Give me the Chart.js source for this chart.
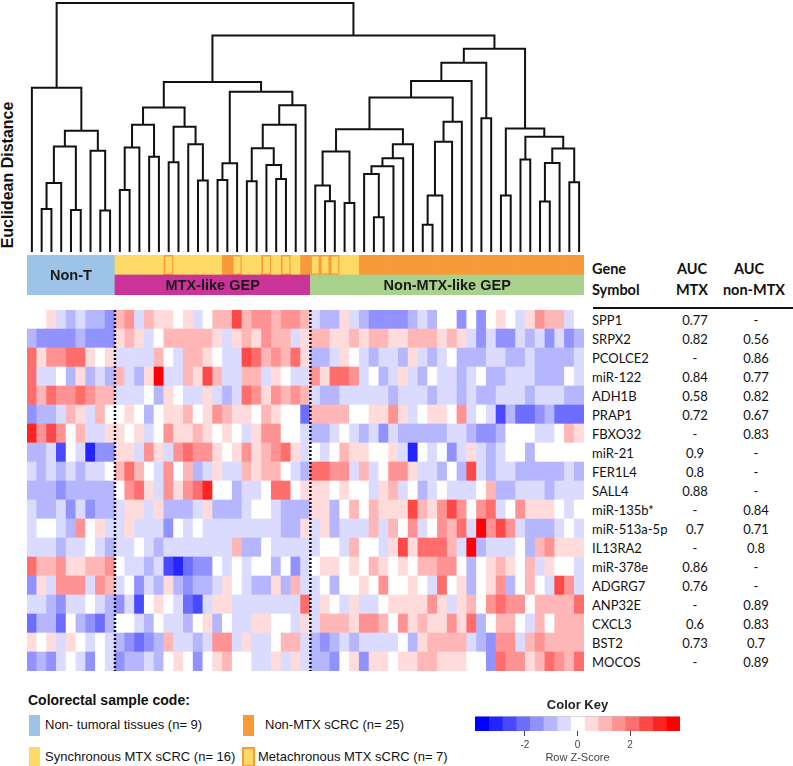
<!DOCTYPE html>
<html>
<head>
<meta charset="utf-8">
<script src="https://cdn.jsdelivr.net/npm/chart.js"></script>
<style>
  body { margin: 0; background: #fff; width: 793px; height: 766px; position: relative; overflow: hidden;
         font-family: "Liberation Sans", Arial, sans-serif; color: #111; }
  canvas { position: absolute; }
  .abs { position: absolute; white-space: nowrap; }
  .tbl { font-family: Lato, "Noto Sans", sans-serif; font-size: 13px; line-height: 16px; color: #111; }
  .hd { font-family: Lato, "Noto Sans", sans-serif; font-weight: bold; font-size: 14.5px; line-height: 18px; color: #111; }
  .sw { position: absolute; width: 11px; height: 21px; }
  .lg { font-size: 13px; line-height: 16px; color: #111; }
</style>
</head>
<body>
<canvas id="dendro" width="557" height="253" style="left:27px;top:0px"></canvas>
<canvas id="annot" width="557" height="40" style="left:27px;top:255px"></canvas>
<canvas id="heat" width="557" height="361" style="left:27px;top:310px"></canvas>
<canvas id="key" width="220" height="68" style="left:470px;top:697px"></canvas>

<div class="abs" style="left:-72px;top:166px;width:160px;height:18px;line-height:18px;text-align:center;font-weight:bold;font-size:16px;transform:rotate(-90deg);">Euclidean Distance</div>

<div id="table"></div>

<div class="abs" style="left:28px;top:692px;font-weight:bold;font-size:14px;line-height:16px;">Colorectal sample code:</div>
<div class="sw" style="left:29px;top:715px;background:#9DC3E6"></div>
<div class="abs lg" style="left:45px;top:717px;">Non- tumoral tissues (n= 9)</div>
<div class="sw" style="left:243px;top:715px;background:#F79A3A"></div>
<div class="abs lg" style="left:265px;top:717px;">Non-MTX sCRC (n= 25)</div>
<div class="sw" style="left:29px;top:747px;height:20px;background:#FFD966"></div>
<div class="abs lg" style="left:45px;top:749px;">Synchronous MTX sCRC (n= 16)</div>
<div class="sw" style="left:242px;top:747px;width:9px;height:16px;background:#FFD966;border:2px solid #F79A3A"></div>
<div class="abs lg" style="left:258px;top:749px;">Metachronous MTX sCRC (n= 7)</div>

<script>
// genes (heatmap rows, top to bottom) and AUC table
const genes = ['SPP1', 'SRPX2', 'PCOLCE2', 'miR-122', 'ADH1B', 'PRAP1', 'FBXO32', 'miR-21', 'FER1L4', 'SALL4',
  'miR-135b*', 'miR-513a-5p', 'IL13RA2', 'miR-378e', 'ADGRG7', 'ANP32E', 'CXCL3', 'BST2', 'MOCOS'];
const aucMtx = ['0.77', '0.82', '-', '0.84', '0.58', '0.72', '-', '0.9', '0.8', '0.88',
  '-', '0.7', '-', '0.86', '0.76', '-', '0.6', '0.73', '-'];
const aucNonMtx = ['-', '0.56', '0.86', '0.77', '0.82', '0.67', '0.83', '-', '-', '-',
  '0.84', '0.71', '0.8', '-', '-', '0.89', '0.83', '0.7', '0.89'];

// sample code per column (NT non-tumoral, S synchronous, M metachronous, O non-MTX sCRC)
const sampleCode = [
  'NT','NT','NT','NT','NT','NT','NT','NT','NT',
  'S','S','S','S','S','M','S','S','S','S','S','O','M','S','S','M','S','M','S','O',
  'M','M','M','S','S',
  'O','O','O','O','O','O','O','O','O','O','O','O','O','O','O','O','O','O','O','O','O','O','O'];
// GEP groups
const gepNames = ['Non-T', 'MTX-like GEP', 'Non-MTX-like GEP'];
const gepFirst = [0, 9, 29];
const gepLast = [8, 28, 56];

// row z-scores, one array per gene (57 samples in dendrogram order)
const zSPP1 = [0,0,0.5,-0.5,-1,-0.5,-1,-1,-1.5, 1,1.5,-0.5,1,0.5,0.5,0,0.5,-0.5,0,1,1,2.5,1,1.5,1.5,1,1.5,1.5,1,
  -0.5,-1,-1,0.5,-0.5,-1,-1.5,-1.5,-1.5,-1.5,-1,-0.5,-1,0,0,-1.5,0,-1.5,0,0.5,0,-0.5,0.5,1.5,1,1,-0.5,0];
const zSRPX2 = [-1,-1.5,-1.5,-1.5,-1.5,-1,-1.5,-1.5,-1.5, 0.5,1,0.5,-0.5,0,1,1,1,1,1,0.5,-0.5,0.5,1,0.5,1.5,1,1,-0.5,0.5,
  1,1,0.5,0.5,1,0.5,1,1,0.5,0.5,1,1,1,0.5,1,0.5,-0.5,-1.5,-0.5,-1.5,-1.5,-0.5,-1,-0.5,-1.5,-0.5,-1.5,-1];
const zPCOLCE2 = [2,0.5,1.5,1.5,2,2,0.5,0,0.5, -0.5,-0.5,-0.5,-0.5,1,0,-0.5,1,1,0.5,0,-0.5,-0.5,2.5,2,1,1.5,1,2,0.5,
  -1,-1,-0.5,0.5,0,-0.5,-1,-0.5,-0.5,-1,0.5,-0.5,-1,-0.5,0,-1,-1,-1,-0.5,-0.5,-1,-1,-0.5,-1,-1,-1,-1,-0.5];
const zMiR122 = [2,-0.5,-0.5,0,-1,0.5,-1,-0.5,-1, 1,-0.5,-1,0.5,3.5,-0.5,-0.5,1,0.5,2.5,1,-0.5,-0.5,1,1,-0.5,0.5,0,-0.5,-0.5,
  1.5,0.5,2,2,1.5,-0.5,0,-1,-0.5,0.5,-0.5,-1,0,-0.5,-0.5,-1,-0.5,0,-1,-1,-0.5,-0.5,-0.5,-1,-1,-1,0,-0.5];
const zADH1B = [2,1,2,1.5,1.5,2,1.5,1,1, -0.5,-0.5,-0.5,0,-1,0.5,0,-0.5,-0.5,0.5,-0.5,-1,-0.5,2,1.5,0.5,1.5,1,1.5,1,
  -0.5,-1,-1,-0.5,-0.5,-0.5,-0.5,-0.5,-1,-0.5,-0.5,-0.5,-1,-0.5,-0.5,-1,-0.5,-1,-1,-0.5,-0.5,-0.5,-1,-0.5,-0.5,-0.5,-1,-1];
const zPRAP1 = [-1.5,-1,-1,-0.5,1,0.5,-0.5,1,0, 0,0.5,0,-1,0,0.5,0.5,1,0,0.5,1.5,1,0.5,0.5,0,1,0.5,0,0,-2,
  1,1,1,1,0,0,0.5,0.5,1.5,0.5,-0.5,0,0.5,0.5,0,1.5,-0.5,0,-0.5,-2.5,-1,-2,-2,-1.5,-1,-2,-2,-2];
const zFBXO32 = [3,1.5,2.5,1.5,0,1,-0.5,-0.5,0.5, 0.5,0,0.5,-0.5,0,1.5,0.5,0.5,1,0.5,0,0.5,0,-0.5,0.5,1.5,1.5,0,0,-0.5,
  -1,-1,-0.5,0,-0.5,-1,-0.5,-1.5,-0.5,-1,-1,-1,-1,-1,-0.5,-0.5,-1,-1.5,-1.5,-1,0,0,0,-0.5,-0.5,0,1,0.5];
const zMiR21 = [-1,-1,-0.5,-2.5,0,-0.5,-3,-1.5,-1.5, 0.5,0.5,-0.5,1.5,0.5,-0.5,1.5,2,1.5,1.5,0.5,0,0.5,1.5,0.5,1,1.5,2,0.5,-0.5,
  0,-0.5,0,1,0.5,0.5,0,0,0.5,-0.5,-3,0,-0.5,0,-1.5,-0.5,0.5,-0.5,-1,-0.5,0,0,-1,0,0,0,0,0];
const zFER1L4 = [-0.5,-1,-0.5,-1,-0.5,-1,-0.5,-0.5,0, 1,2,1,0,-0.5,1.5,0,1,-1,-0.5,0.5,-0.5,-0.5,1,0.5,1,1,0,-0.5,-1,
  2,2,1.5,1.5,-0.5,1,-0.5,0,1.5,1.5,0.5,-0.5,-0.5,-1,0,-1,2.5,-0.5,-1,-0.5,-0.5,-1,-1,-1,-1,-1,-0.5,-1];
const zSALL4 = [-1,-1,-1,-1.5,-1,-1,-1,-1,-1, 0,1.5,2,0.5,-0.5,1.5,0.5,1.5,2,3,0,0,-1,-0.5,-0.5,0,2,2,0,0.5,
  0.5,0.5,0,0.5,0,0,-0.5,0.5,1,-0.5,0,-1,-0.5,0,-0.5,-0.5,-0.5,0,1,-1,-1,-0.5,-0.5,-0.5,-1,-0.5,-0.5,-0.5];
const zMiR135b = [-0.5,-1,-1,-0.5,-1.5,-0.5,-1.5,-1,-1, -0.5,0.5,0.5,-0.5,0.5,-1,-1,-1,-0.5,0.5,-1,-1,-1,-0.5,0,0,-0.5,-1,-1,-1,
  0.5,0.5,-1,0,1,0,1,0.5,0.5,0.5,2.5,1,0.5,1.5,2.5,1.5,0,1.5,2,-0.5,0,1.5,0.5,0.5,0.5,0,-0.5,0];
const zMiR513a = [-0.5,0,0,-0.5,-1,1.5,0,0.5,-0.5, -0.5,0.5,-0.5,-0.5,-0.5,-1.5,0,-0.5,0,-0.5,-0.5,-0.5,-0.5,-0.5,-0.5,-0.5,-0.5,-1,-1,0.5,
  -0.5,0.5,-1,-0.5,-0.5,-0.5,1,-0.5,1,0,1.5,-0.5,0,1.5,1,2,-0.5,3.5,1.5,2.5,1.5,-0.5,-1,-1,-1,-0.5,0,-0.5];
const zIL13RA2 = [-0.5,-0.5,-0.5,-1,-0.5,-0.5,0,-0.5,-1, -0.5,-0.5,0,-0.5,-1,-0.5,-0.5,-0.5,-0.5,-0.5,-0.5,-0.5,1,-1,-1,0,-0.5,-0.5,-0.5,-0.5,
  -0.5,0,0,-0.5,1,0,0,-0.5,0.5,2.5,0.5,2,2,2,1,-0.5,3.5,-1,-0.5,-0.5,-0.5,0,-1,1,1.5,0.5,0.5,0.5];
const zMiR378e = [2,1,1,1.5,0.5,0.5,1,1,1.5, 0,-0.5,-0.5,-1,-0.5,-2.5,-3,-2,-1.5,-1.5,0,-0.5,0,-0.5,0,0,-1,0,-1.5,-0.5,
  0,0.5,0.5,0,0.5,0,1,0.5,0,0.5,0,1,1,1.5,1.5,0,-1,0,0.5,1,0.5,0,1,-0.5,0.5,0,0,-0.5];
const zADGRG7 = [-1.5,0.5,-0.5,1.5,1.5,1.5,-0.5,1.5,1, -0.5,0,-1.5,-0.5,-1,0.5,-1,-1.5,-1,-1,-0.5,0.5,0,-0.5,-1,-1,0.5,-1,1,-0.5,
  -0.5,0,-1,0,0,0.5,0,1.5,0,0,0.5,0,-0.5,2,0,0.5,-1,0,0.5,1.5,-1,0,1,0,-0.5,2.5,1.5,-0.5];
const zANP32E = [-0.5,-0.5,-1,-1.5,-0.5,-0.5,0,-0.5,-1, -1.5,-0.5,-2.5,0,0.5,0,-0.5,-2,-2.5,-0.5,0.5,0.5,-0.5,-0.5,-0.5,-0.5,-0.5,-0.5,-0.5,2,
  -0.5,0.5,0,-0.5,0.5,-0.5,-0.5,0,0.5,0.5,0.5,0.5,1.5,0.5,-0.5,0.5,1,0,1.5,2,1.5,1.5,0,1,1,1,1,2];
const zCXCL3 = [-2,-1,-1,-2,0,-1,-1.5,-2,-1, 0,0,-0.5,-1,0,-0.5,-0.5,-1,0,0.5,-1,0,-0.5,-0.5,0.5,0.5,0,0,-0.5,0.5,
  -0.5,1,1,1,0.5,1.5,1.5,1,0,1.5,0.5,1,0.5,0.5,1.5,0.5,2,-1,0,1,1,0,-0.5,1,0,1,1,1];
const zBST2 = [0.5,0,0.5,-0.5,0.5,0,-0.5,0,-0.5, -1,-1.5,-2,-1.5,-1,1,-0.5,-0.5,-1,-0.5,1.5,1.5,-0.5,0.5,-0.5,-0.5,0,1,1,-0.5,
  -1,-1.5,-1,-0.5,-1,-0.5,-0.5,-0.5,-0.5,0,-1,0.5,1,1,1,1,-0.5,-1,-1.5,1.5,1.5,-0.5,1,1.5,1,1,1,1];
const zMOCOS = [-1.5,-1,-1.5,-0.5,0,-0.5,-1.5,0,-0.5, -1.5,-1,-1,-0.5,-1,0,0.5,0,-1.5,0,0.5,1,0,0,-0.5,-0.5,0.5,-0.5,0.5,-0.5,
  -1,-1,-1.5,0,0.5,-1.5,0.5,0.5,0,0.5,0.5,1,1,0.5,0.5,0.5,0,0,-1.5,2,1.5,1.5,0.5,1,2,1.5,1,2];
const heatRows = [zSPP1, zSRPX2, zPCOLCE2, zMiR122, zADH1B, zPRAP1, zFBXO32, zMiR21, zFER1L4, zSALL4,
  zMiR135b, zMiR513a, zIL13RA2, zMiR378e, zADGRG7, zANP32E, zCXCL3, zBST2, zMOCOS];

// dendrogram merges (L = leaf column, M = earlier merge), heights in Euclidean distance units
const mergeLeft = ['L1','M1','L4','M2','L7','L6','M4','L0','L9','M9','L12','M10','L14','L17','L16','M13','M12',
  'L19','M18','L22','L25','L24','M20','M23','M24','M19','M17','L30','L29','L32','M29','L35','L34','M33','M34','M35',
  'M31','L40','M38','M39','M40','M37','M42','L46','M43','L48','L50','L52','M48','L55','M49','M47','M46','M45','M27','M8'];
const mergeRight = ['L2','L3','L5','M3','L8','M5','M6','M7','L10','L11','L13','M11','L15','L18','M14','M15','M16',
  'L20','L21','L23','L26','M21','M22','L27','L28','M25','M26','L31','M28','L33','M30','L36','M32','L37','L38','L39',
  'M36','L41','L42','L43','L44','M41','L45','L47','M44','L49','L51','L53','L54','L56','M50','M51','M52','M53','M54','M55'];
const mergeHeight = [17.3,27.7,16.9,42.4,16.7,40.7,48.7,66.0,24.9,42.0,38.3,51.1,36.0,28.7,43.3,50.3,58.0,
  28.9,35.6,28.4,29.3,34.9,41.7,51.1,58.9,64.4,68.3,20.4,26.7,19.7,40.4,14.0,31.3,34.4,37.7,43.3,
  49.3,10.9,22.7,44.3,52.3,62.0,68.7,53.7,76.0,22.7,37.1,20.3,35.7,28.0,41.6,46.3,49.6,81.6,86.9,100];

// colour key
const keyMin = -3.9, keyMax = 3.9, keyBins = 15;
const keyTicks = [-2, 0, 2];

const nSamples = sampleCode.length;
const fontSans = '"Liberation Sans", Arial, sans-serif';
const colNT = '#9DC3E6', colSync = '#FFD966', colNon = '#F79A3A', colMTX = '#CC3399', colNonGEP = '#A9D18E';

// value -> discrete heatmap colour (same bins as the colour key)
function zColor(v) {
  const step = (keyMax - keyMin) / keyBins;
  let k = Math.round(v / step);
  k = Math.max(-7, Math.min(7, k));
  const c = Math.round(255 * (1 - Math.abs(k) / 7));
  if (k > 0) return `rgb(255,${c},${c})`;
  if (k < 0) return `rgb(${c},${c},255)`;
  return '#ffffff';
}

// ---- dendrogram
const pos = {};
for (let i = 0; i < nSamples; i++) pos['L' + i] = { x: i, h: 0 };
const linkSets = mergeLeft.map((a, j) => {
  const A = pos[a], B = pos[mergeRight[j]], h = mergeHeight[j];
  pos['M' + (j + 1)] = { x: (A.x + B.x) / 2, h: h };
  return {
    data: [{ x: A.x, y: A.h }, { x: A.x, y: h }, { x: B.x, y: h }, { x: B.x, y: B.h }],
    showLine: true, borderColor: '#111', borderWidth: 2, pointRadius: 0,
    borderJoinStyle: 'miter', clip: false
  };
});

new Chart(document.getElementById('dendro'), {
  type: 'scatter',
  data: { datasets: linkSets },
  options: {
    responsive: false, animation: false,
    layout: { padding: { top: 3, bottom: 1 } },
    plugins: { legend: { display: false }, tooltip: { enabled: false } },
    scales: {
      x: { type: 'linear', min: -0.5, max: nSamples - 0.5, display: false },
      y: { min: 0, max: 100, display: false }
    }
  }
});

// ---- annotation bars (sample code on top, GEP below)
const labels = sampleCode.map((c, i) => 'S' + (i + 1));
function gepIndex(i) { return gepFirst.findIndex((f, g) => i >= f && i <= gepLast[g]); }
const gepColors = sampleCode.map((c, i) => [colNT, colMTX, colNonGEP][gepIndex(i)]);
const codeColors = sampleCode.map(c => c === 'NT' ? colNT : (c === 'O' ? colNon : colSync));

const annotLabels = {
  id: 'annotLabels',
  afterDatasetsDraw(chart) {
    const { ctx, scales: { x, y } } = chart;
    ctx.save();
    ctx.font = 'bold 14.5px ' + fontSans;
    ctx.fillStyle = '#1a1a1a';
    ctx.textAlign = 'center';
    ctx.textBaseline = 'middle';
    gepNames.forEach((name, g) => {
      const cx = (x.getPixelForValue(gepFirst[g]) + x.getPixelForValue(gepLast[g])) / 2;
      const cy = g === 0 ? y.getPixelForValue(1) : y.getPixelForValue(0.5);
      ctx.fillText(name, cx, cy + 1);
    });
    ctx.restore();
  }
};

new Chart(document.getElementById('annot'), {
  type: 'bar',
  data: {
    labels: labels,
    datasets: [
      { data: sampleCode.map(() => 1), backgroundColor: gepColors, borderWidth: 0 },
      { data: sampleCode.map(() => 1), backgroundColor: codeColors, borderColor: colNon,
        borderWidth: sampleCode.map(c => c === 'M' ? 1.8 : 0), borderSkipped: false }
    ]
  },
  options: {
    responsive: false, animation: false,
    plugins: { legend: { display: false }, tooltip: { enabled: false } },
    datasets: { bar: { barPercentage: 1, categoryPercentage: 1 } },
    scales: {
      x: { stacked: true, display: false },
      y: { stacked: true, display: false, min: 0, max: 2 }
    }
  },
  plugins: [annotLabels]
});

// ---- heatmap (one stacked dataset per gene, bottom row first)
const dottedLines = {
  id: 'dottedLines',
  afterDatasetsDraw(chart) {
    const { ctx, chartArea, scales: { x } } = chart;
    ctx.save();
    ctx.strokeStyle = '#111';
    ctx.lineWidth = 2.5;
    ctx.setLineDash([2, 2]);
    [gepLast[0], gepLast[1]].forEach(c => {
      const px = (x.getPixelForValue(c) + x.getPixelForValue(c + 1)) / 2;
      ctx.beginPath();
      ctx.moveTo(px, chartArea.top);
      ctx.lineTo(px, chartArea.bottom);
      ctx.stroke();
    });
    ctx.restore();
  }
};

const heatSets = heatRows.slice().reverse().map((row, r) => ({
  label: genes[genes.length - 1 - r],
  data: row.map(() => 1),
  backgroundColor: row.map(zColor),
  borderWidth: 0
}));

new Chart(document.getElementById('heat'), {
  type: 'bar',
  data: { labels: labels, datasets: heatSets },
  options: {
    responsive: false, animation: false,
    plugins: { legend: { display: false }, tooltip: { enabled: false } },
    datasets: { bar: { barPercentage: 1, categoryPercentage: 1 } },
    scales: {
      x: { stacked: true, display: false },
      y: { stacked: true, display: false, min: 0, max: genes.length }
    }
  },
  plugins: [dottedLines]
});

// ---- colour key
const keyStep = (keyMax - keyMin) / keyBins;
const keySets = [];
for (let b = 0; b < keyBins; b++) {
  const lo = keyMin + b * keyStep;
  keySets.push({ data: [[lo, lo + keyStep]], backgroundColor: zColor(lo + keyStep / 2), borderWidth: 0 });
}
keySets.push({ data: [[keyMin, keyMax]], backgroundColor: 'rgba(0,0,0,0)', borderColor: '#333',
  borderWidth: 1, borderSkipped: false });

new Chart(document.getElementById('key'), {
  type: 'bar',
  data: { labels: [''], datasets: keySets },
  options: {
    indexAxis: 'y', responsive: false, animation: false,
    layout: { padding: { left: 5, right: 10, top: 0, bottom: 0 } },
    datasets: { bar: { grouped: false, barPercentage: 1, categoryPercentage: 1 } },
    plugins: {
      legend: { display: false }, tooltip: { enabled: false },
      title: { display: true, text: 'Color Key', color: '#222',
        font: { family: fontSans, size: 13, weight: 'bold' }, padding: { top: 1, bottom: 3 } }
    },
    scales: {
      x: {
        type: 'linear', min: keyMin, max: keyMax,
        afterBuildTicks: s => { s.ticks = keyTicks.map(v => ({ value: v })); },
        ticks: { color: '#444', font: { family: fontSans, size: 10 }, padding: 3 },
        grid: { drawOnChartArea: false, tickLength: 5, color: '#444' },
        border: { display: false },
        title: { display: true, text: 'Row Z-Score', color: '#444',
          font: { family: fontSans, size: 11 }, padding: { top: 1, bottom: 0 } }
      },
      y: { display: false }
    }
  }
});

// ---- AUC table
const table = document.getElementById('table');
function put(text, cls, left, top, align) {
  const d = document.createElement('div');
  d.className = 'abs ' + cls;
  d.textContent = text;
  d.style.top = top + 'px';
  if (align === 'center') { d.style.left = (left - 50) + 'px'; d.style.width = '100px'; d.style.textAlign = 'center'; }
  else d.style.left = left + 'px';
  table.appendChild(d);
}
put('Gene', 'hd', 592, 260);
put('Symbol', 'hd', 592, 281);
put('AUC', 'hd', 692, 260, 'center');
put('MTX', 'hd', 692, 281, 'center');
put('AUC', 'hd', 749, 260, 'center');
put('non-MTX', 'hd', 754, 281, 'center');
const rule = document.createElement('div');
rule.style.cssText = 'position:absolute;left:593px;top:307px;width:200px;height:2px;background:#111';
table.appendChild(rule);
genes.forEach((g, i) => {
  const top = 312 + i * 19;
  put(g, 'tbl', 592, top);
  put(aucMtx[i], 'tbl', 695, top, 'center');
  put(aucNonMtx[i], 'tbl', 756, top, 'center');
});
</script>
</body>
</html>
